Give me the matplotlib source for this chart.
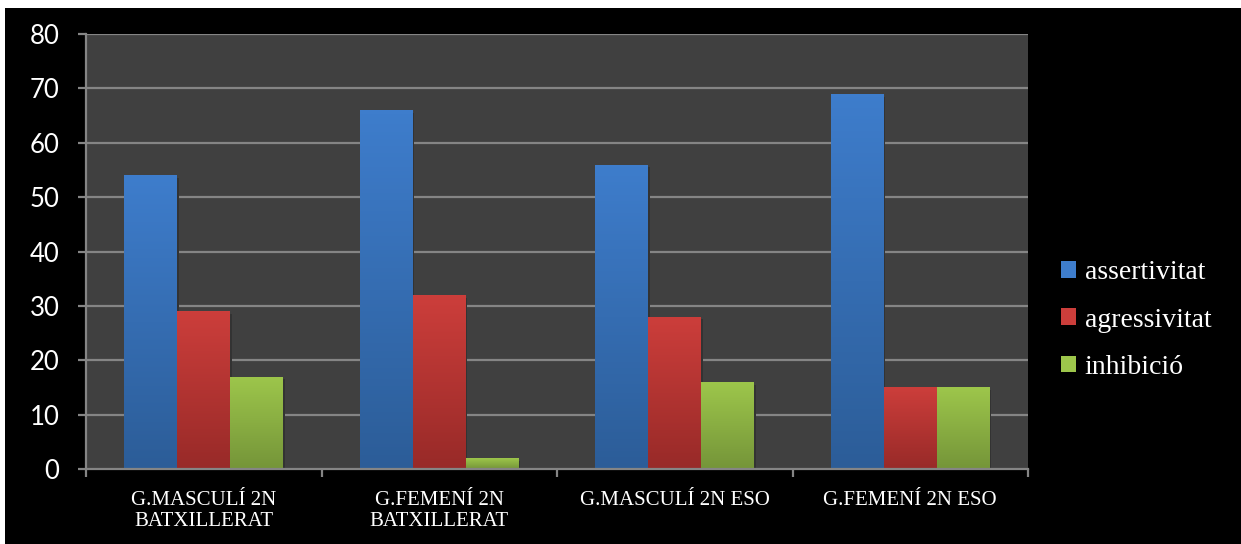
import numpy as np
import matplotlib
matplotlib.use('Agg')
import matplotlib.pyplot as plt
from matplotlib.patches import Rectangle
from matplotlib.colors import LinearSegmentedColormap

groups = ['G.MASCULÍ 2N\nBATXILLERAT', 'G.FEMENÍ 2N\nBATXILLERAT',
          'G.MASCULÍ 2N ESO', 'G.FEMENÍ 2N ESO']
series = ['assertivitat', 'agressivitat', 'inhibició']
assertivitat = [54, 66, 56, 69]
agressivitat = [29, 32, 28, 15]
inhibicio = [17, 2, 16, 15]
yticks = [0, 10, 20, 30, 40, 50, 60, 70, 80]

values = [assertivitat, agressivitat, inhibicio]
# (top colour, bottom colour) for each series gradient
grads = [('#3e7dcc', '#2c5d98'), ('#cc3e3b', '#982a28'), ('#9dc64b', '#759539')]

fig = plt.figure(figsize=(12.41, 5.44), dpi=100)
fig.patch.set_facecolor('white')
fig.add_artist(Rectangle((5/1241, 0), 1, (544-8)/544, transform=fig.transFigure,
                         facecolor='black', edgecolor='none', zorder=-10))
ax = fig.add_axes([86/1241, (544-469)/544, (1028-86)/1241, (469-34)/544])
ax.set_facecolor('#404040')

grid_c = '#858585'
for y in yticks[1:]:
    ax.axhline(y, color=grid_c, lw=1.6, zorder=1)

w = 0.225
x = np.arange(len(groups))
for j, (vals, name, (ctop, cbot)) in enumerate(zip(values, series, grads)):
    cmap = LinearSegmentedColormap.from_list(name, [cbot, ctop])
    bars = ax.bar(x + (j - 1) * w, vals, w, color=ctop, label=name, zorder=2,
                  linewidth=0)
    for b in bars:
        bx, by = b.get_x(), b.get_y()
        bw, bh = b.get_width(), b.get_height()
        # faint shadow on the right
        ax.add_patch(Rectangle((bx + bw, by), 0.007, bh - 0.5, facecolor='#333333',
                               edgecolor='none', zorder=1.5))
        grad = np.linspace(0, 1, 100).reshape(-1, 1)
        im = ax.imshow(grad, cmap=cmap, origin='lower', aspect='auto',
                       extent=[bx, bx + bw, by, by + bh], zorder=3)
        im.set_clip_path(b)

ax.set_xlim(-0.5, len(groups) - 0.5)
ax.set_ylim(0, 80)

for s in ['top', 'right']:
    ax.spines[s].set_visible(False)
for s in ['left', 'bottom']:
    ax.spines[s].set_color(grid_c)
    ax.spines[s].set_linewidth(1.6)
    ax.spines[s].set_zorder(4)

ax.set_yticks(yticks)
ax.set_yticklabels([str(v) for v in yticks], fontfamily='Lato', fontsize=18.5,
                   color='white')
ax.tick_params(axis='y', length=6, width=1.6, color=grid_c, pad=13)

ax.set_xticks(x)
ax.set_xticklabels(groups, fontfamily='Liberation Serif', fontsize=15,
                   color='white', linespacing=1.1)
ax.set_xticks(np.arange(len(groups) + 1) - 0.5, minor=True)
ax.tick_params(axis='x', which='major', length=0, pad=16)
ax.tick_params(axis='x', which='minor', length=6, width=1.6, color=grid_c)

leg = ax.legend(loc='center left', bbox_to_anchor=(1047/1241, (544-320)/544),
                bbox_transform=fig.transFigure, frameon=False,
                prop={'family': 'Liberation Serif', 'size': 20},
                labelcolor='white', handlelength=0.55, handleheight=0.55,
                handletextpad=0.3, labelspacing=0.8, borderpad=0)

fig.savefig('out.png', dpi=100, facecolor=fig.get_facecolor())
